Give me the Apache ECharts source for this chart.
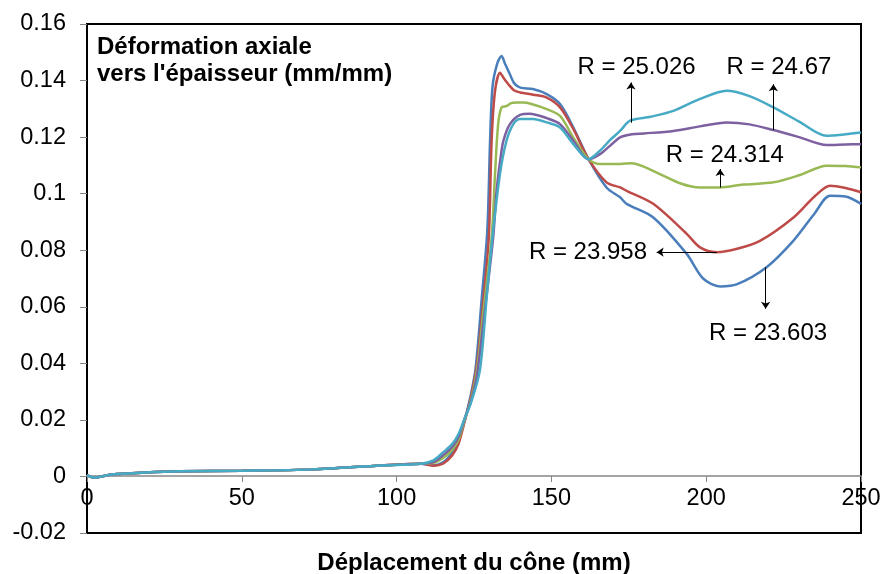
<!DOCTYPE html>
<html>
<head>
<meta charset="utf-8">
<script src="https://cdn.jsdelivr.net/npm/echarts@6/dist/echarts.min.js"></script>
<style>
  html, body { margin: 0; padding: 0; background: #fff; }
  #chart { width: 882px; height: 574px; }
</style>
</head>
<body>
<div id="chart"></div>
<script>
// common start of all curves (x = displacement mm, y = strain)
var baseStart = [[0,0.0005],[2,-0.0004],[8,0.0007],[19,0.0014],[30,0.0018],[50,0.002],[73,0.0025],[95,0.0039],[108,0.0045]];

var blueData = [[112,0.0040],[115,0.005],[118,0.0085],[120,0.0125],[122,0.020],[124,0.029],[125.5,0.038],[127.5,0.063],[129.3,0.087],[130.2,0.119],[131,0.138],[132.5,0.146],[133.9,0.1487],[135,0.146],[136.6,0.1422],[138,0.139],[140,0.1375],[144,0.137],[148.5,0.1352],[152.8,0.1317],[157.1,0.1234],[162,0.1122],[167.8,0.1022],[172.2,0.0987],[174.3,0.0964],[182.9,0.0916],[193.7,0.0787],[199,0.070],[204.5,0.0672],[210,0.068],[219.5,0.074],[228.2,0.0834],[235,0.093],[240,0.0993],[245,0.099],[250,0.0964]];
var redData = [[112,0.0038],[115,0.0045],[118,0.0075],[120,0.0115],[122,0.0195],[124,0.028],[126,0.040],[128,0.062],[129.8,0.085],[130.7,0.119],[131.8,0.1364],[133.4,0.1428],[134.5,0.141],[136.1,0.1387],[138,0.1365],[139.9,0.1358],[144.1,0.135],[148.5,0.134],[152.8,0.1305],[157.1,0.1228],[162,0.1122],[167.8,0.104],[172.2,0.1022],[174.3,0.101],[182.9,0.0964],[193.7,0.0858],[198,0.081],[203.4,0.0793],[210,0.0805],[217.5,0.0834],[228.2,0.0916],[235,0.099],[240,0.1028],[245,0.102],[250,0.1005]];
var greenData = [[112,0.0048],[115,0.0065],[118,0.0095],[120,0.013],[122,0.020],[124,0.027],[126,0.038],[128,0.058],[130.7,0.0846],[131.8,0.107],[132.8,0.1246],[133.9,0.1305],[135.5,0.131],[137,0.132],[138.7,0.1322],[141,0.1322],[143,0.1319],[148.5,0.1299],[152.8,0.1275],[157.1,0.1198],[162,0.1122],[165.7,0.1105],[172.2,0.1105],[176,0.1108],[180,0.1095],[184.9,0.107],[192,0.1035],[198,0.1022],[204.5,0.1022],[212,0.1032],[221.7,0.104],[230,0.1065],[238.9,0.1099],[245,0.1098],[250,0.1093]];
var purpleData = [[112,0.0052],[115,0.0075],[118,0.0105],[120,0.014],[122,0.0205],[124,0.0265],[126,0.036],[128,0.054],[129.5,0.068],[131.2,0.0846],[132.3,0.101],[133.5,0.112],[134.5,0.1187],[136.6,0.1246],[139.9,0.1279],[143,0.1283],[148.5,0.1267],[152.8,0.1246],[157.1,0.1187],[162,0.1122],[165.7,0.114],[169,0.117],[172.2,0.1199],[176,0.121],[180,0.1213],[189.4,0.1222],[198,0.1238],[206.6,0.1252],[214,0.1245],[221.7,0.1225],[230,0.12],[238.9,0.1172],[245,0.1174],[250,0.1175]];
var cyanData = [[112,0.0058],[115,0.0085],[118,0.0115],[120,0.015],[122,0.0205],[124,0.026],[126.9,0.0375],[129.1,0.0634],[131,0.085],[133.4,0.107],[135.5,0.1187],[137.7,0.1246],[139.9,0.1264],[144.1,0.1264],[148.5,0.1252],[152.8,0.1234],[157.1,0.1175],[162,0.1122],[165.7,0.1152],[169,0.119],[172.2,0.1222],[175.4,0.1258],[182,0.1272],[189.4,0.1293],[198,0.1335],[206.6,0.1364],[214,0.1345],[221.7,0.1305],[230,0.1255],[238.9,0.1205],[245,0.121],[250,0.1216]];

// annotations: text, label anchor, arrow from -> to (data coords)
var annTexts = ['R = 23.603', 'R = 23.958', 'R = 24.314', 'R = 24.67', 'R = 25.026'];
var annLabelAt = [[220,0.0505],[161.8,0.0793],[206,0.1134],[223.5,0.1446],[177.5,0.1446]];
var annArrows = [
    [[219.2,0.074],[219.2,0.0593]],
    [[203.4,0.0793],[184,0.0793]],
    [[204.5,0.1022],[204.5,0.1087]],
    [[221.7,0.1225],[221.7,0.1387]],
    [[175.7,0.1251],[175.7,0.1393]]
];

var seriesData = [blueData, redData, greenData, purpleData, cyanData];
var colors = ['#4A7EBB', '#BE4B48', '#98B954', '#7D60A0', '#46AAC5'];

var font = 'Liberation Sans, Arial, sans-serif';
var myChart = echarts.init(document.getElementById('chart'));

var series = [];
for (var i = 0; i < seriesData.length; i++) {
    series.push({
        name: annTexts[i],
        type: 'line',
        data: baseStart.concat(seriesData[i]),
        smooth: 0.3,
        showSymbol: false,
        lineStyle: { color: colors[i], width: 2.5 },
        itemStyle: { color: colors[i] },
        markLine: {
            silent: true,
            symbol: ['none', 'arrow'],
            symbolSize: 7,
            lineStyle: { color: '#000', width: 1, type: 'solid' },
            label: { show: false },
            data: [[{ coord: annArrows[i][0] }, { coord: annArrows[i][1] }]]
        },
        markPoint: {
            silent: true,
            symbol: 'circle',
            symbolSize: 1,
            itemStyle: { color: 'transparent' },
            label: {
                show: true,
                position: 'inside',
                formatter: annTexts[i],
                color: '#000',
                fontFamily: font,
                fontSize: 24
            },
            data: [{ coord: annLabelAt[i] }]
        }
    });
}

var option = {
    animation: false,
    backgroundColor: '#fff',
    title: {
        text: "Déformation axiale\nvers l'épaisseur (mm/mm)",
        left: 97,
        top: 34,
        padding: 0,
        textStyle: { fontFamily: font, fontSize: 24, fontWeight: 'bold', color: '#000', lineHeight: 27 }
    },
    grid: {
        left: 87,
        right: 21,
        top: 24,
        bottom: 41,
        outerBoundsMode: 'none',
        containLabel: false,
        show: true,
        borderColor: '#000',
        borderWidth: 2
    },
    xAxis: {
        type: 'value',
        min: 0,
        max: 250,
        interval: 50,
        offset: -57,
        name: 'Déplacement du cône (mm)',
        nameLocation: 'middle',
        nameGap: 75,
        nameTextStyle: { fontFamily: font, fontSize: 24, fontWeight: 'bold', color: '#000' },
        axisLine: { onZero: false, lineStyle: { color: '#868686', width: 1.5 } },
        axisTick: { show: true, length: 6, lineStyle: { color: '#868686' } },
        axisLabel: { margin: 11, fontFamily: font, fontSize: 23.5, color: '#000' },
        splitLine: { show: false }
    },
    yAxis: {
        type: 'value',
        min: -0.02,
        max: 0.16,
        interval: 0.02,
        axisLine: { show: false },
        axisTick: { show: true, length: 7, lineStyle: { color: '#868686' } },
        axisLabel: { margin: 21, fontFamily: font, fontSize: 23.5, color: '#000' },
        splitLine: { show: false }
    },
    series: series
};

myChart.setOption(option);
</script>
</body>
</html>
